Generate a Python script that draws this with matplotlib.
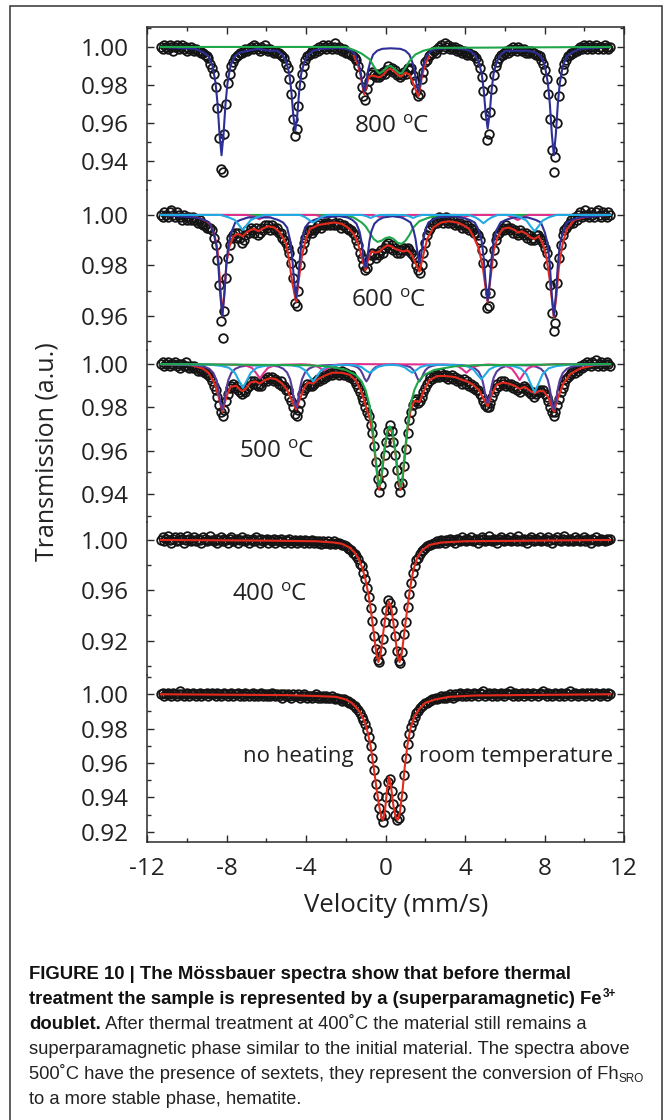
import matplotlib
matplotlib.use("Agg")
import matplotlib.pyplot as plt
import numpy as np
from matplotlib.patches import Rectangle
from matplotlib.ticker import MultipleLocator, FormatStrFormatter

plt.rcParams['font.family'] = ['Open Sans', 'DejaVu Sans']
plt.rcParams['axes.unicode_minus'] = False
plt.rcParams['mathtext.default'] = 'regular'

# velocity range of the channels (mm/s)
V_START, V_STOP = -11.3, 11.3

# measured transmission, one value per channel
t800 = [1.000, 0.999, 1.001, 1.000, 0.999, 1.001, 1.000, 0.998, 1.000, 1.001,
        0.999, 1.000, 1.001, 0.999, 1.000, 0.998, 0.999, 1.000, 0.999, 0.998,
        0.999, 0.998, 0.998, 0.997, 0.997, 0.996, 0.995, 0.994, 0.991, 0.989,
        0.986, 0.979, 0.968, 0.952, 0.936, 0.934, 0.954, 0.970, 0.981, 0.986,
        0.990, 0.992, 0.994, 0.995, 0.996, 0.997, 0.997, 0.998, 0.999, 0.998,
        0.999, 1.000, 0.999, 1.001, 1.000, 0.999, 0.998, 1.000, 0.999, 1.001,
        0.999, 0.998, 0.999, 0.998, 0.997, 0.998, 0.997, 0.997, 0.996, 0.995,
        0.994, 0.991, 0.989, 0.983, 0.975, 0.962, 0.953, 0.957, 0.969, 0.980,
        0.986, 0.990, 0.993, 0.995, 0.996, 0.997, 0.998, 0.997, 0.999, 0.998,
        1.000, 0.999, 1.001, 1.000, 0.999, 1.001, 1.000, 0.999, 1.000, 1.002,
        0.999, 1.000, 0.999, 0.998, 0.999, 0.997, 0.997, 0.997, 0.996, 0.995,
        0.994, 0.993, 0.990, 0.986, 0.979, 0.974, 0.972, 0.978, 0.982, 0.986,
        0.987, 0.985, 0.984, 0.986, 0.984, 0.985, 0.987, 0.986, 0.988, 0.990,
        0.988, 0.989, 0.987, 0.988, 0.985, 0.986, 0.984, 0.985, 0.987, 0.986,
        0.989, 0.988, 0.989, 0.985, 0.982, 0.977, 0.974, 0.975, 0.983, 0.987,
        0.992, 0.993, 0.995, 0.996, 0.997, 0.998, 0.997, 0.999, 1.000, 1.001,
        0.999, 1.002, 1.000, 1.001, 0.999, 1.000, 0.999, 1.000, 0.998, 0.999,
        0.998, 0.997, 0.998, 0.997, 0.996, 0.997, 0.996, 0.996, 0.995, 0.994,
        0.992, 0.989, 0.984, 0.977, 0.964, 0.951, 0.954, 0.966, 0.978, 0.985,
        0.990, 0.992, 0.994, 0.996, 0.996, 0.997, 0.998, 0.997, 0.999, 0.998,
        1.000, 0.999, 0.998, 1.000, 0.999, 0.998, 0.999, 0.997, 0.998, 0.997,
        0.998, 0.997, 0.997, 0.996, 0.996, 0.995, 0.993, 0.991, 0.988, 0.983,
        0.975, 0.962, 0.946, 0.934, 0.942, 0.960, 0.974, 0.982, 0.988, 0.991,
        0.993, 0.995, 0.996, 0.997, 0.997, 0.998, 0.998, 0.999, 1.000, 0.999,
        1.001, 1.000, 0.999, 1.001, 1.000, 0.999, 1.000, 1.001, 0.999, 1.000,
        1.000, 0.999, 1.001, 1.000, 0.999, 1.000]

t600 = [1.000, 0.999, 1.001, 1.000, 0.999, 1.001, 1.002, 1.000, 0.999, 1.001,
        1.000, 0.999, 0.998, 1.000, 0.999, 0.998, 0.999, 0.998, 0.999, 0.998,
        0.998, 0.997, 0.998, 0.997, 0.996, 0.996, 0.995, 0.995, 0.995, 0.994,
        0.991, 0.988, 0.982, 0.972, 0.958, 0.951, 0.962, 0.975, 0.983, 0.988,
        0.991, 0.992, 0.993, 0.991, 0.993, 0.991, 0.989, 0.990, 0.992, 0.994,
        0.993, 0.995, 0.994, 0.993, 0.995, 0.992, 0.993, 0.995, 0.994, 0.996,
        0.995, 0.996, 0.994, 0.996, 0.995, 0.994, 0.995, 0.993, 0.993, 0.991,
        0.990, 0.989, 0.987, 0.985, 0.981, 0.975, 0.965, 0.964, 0.970, 0.980,
        0.986, 0.989, 0.991, 0.993, 0.994, 0.994, 0.993, 0.994, 0.995, 0.996,
        0.997, 0.995, 0.996, 0.997, 0.996, 0.997, 0.996, 0.998, 0.996, 0.997,
        0.996, 0.997, 0.995, 0.996, 0.996, 0.995, 0.995, 0.994, 0.994, 0.993,
        0.992, 0.990, 0.988, 0.985, 0.983, 0.980, 0.978, 0.979, 0.982, 0.984,
        0.985, 0.984, 0.983, 0.985, 0.984, 0.986, 0.985, 0.987, 0.988, 0.989,
        0.987, 0.988, 0.986, 0.987, 0.985, 0.986, 0.985, 0.986, 0.987, 0.986,
        0.987, 0.986, 0.985, 0.984, 0.983, 0.980, 0.978, 0.977, 0.980, 0.985,
        0.989, 0.992, 0.994, 0.995, 0.996, 0.997, 0.998, 0.997, 0.999, 0.998,
        0.997, 0.998, 0.999, 0.997, 0.998, 0.997, 0.998, 0.996, 0.997, 0.996,
        0.997, 0.995, 0.996, 0.995, 0.996, 0.994, 0.995, 0.994, 0.993, 0.993,
        0.992, 0.990, 0.986, 0.981, 0.969, 0.963, 0.964, 0.969, 0.981, 0.986,
        0.990, 0.992, 0.993, 0.994, 0.995, 0.994, 0.996, 0.995, 0.994, 0.995,
        0.993, 0.994, 0.993, 0.992, 0.994, 0.993, 0.992, 0.993, 0.991, 0.992,
        0.990, 0.991, 0.990, 0.992, 0.992, 0.991, 0.990, 0.989, 0.987, 0.985,
        0.980, 0.972, 0.961, 0.954, 0.957, 0.973, 0.983, 0.988, 0.992, 0.994,
        0.995, 0.996, 0.997, 0.998, 0.997, 0.999, 0.998, 1.000, 1.001, 0.999,
        1.000, 1.002, 1.000, 0.999, 1.001, 1.000, 0.999, 1.001, 1.002, 1.000,
        0.999, 1.001, 1.000, 0.999, 1.001, 1.000]

t500 = [1.000, 1.001, 0.999, 1.000, 1.001, 0.999, 1.000, 1.000, 1.001, 0.999,
        1.000, 0.998, 1.000, 0.999, 1.001, 0.999, 0.998, 0.999, 0.998, 0.999,
        0.998, 0.997, 0.998, 0.997, 0.997, 0.996, 0.996, 0.995, 0.994, 0.992,
        0.990, 0.988, 0.985, 0.981, 0.978, 0.976, 0.979, 0.983, 0.986, 0.989,
        0.990, 0.991, 0.989, 0.990, 0.988, 0.987, 0.986, 0.988, 0.987, 0.989,
        0.990, 0.992, 0.991, 0.992, 0.991, 0.990, 0.991, 0.990, 0.992, 0.993,
        0.992, 0.994, 0.993, 0.994, 0.992, 0.993, 0.992, 0.991, 0.992, 0.990,
        0.990, 0.988, 0.988, 0.985, 0.983, 0.980, 0.977, 0.976, 0.979, 0.982,
        0.986, 0.988, 0.989, 0.991, 0.990, 0.991, 0.990, 0.991, 0.992, 0.993,
        0.992, 0.994, 0.993, 0.995, 0.994, 0.995, 0.996, 0.995, 0.996, 0.997,
        0.996, 0.995, 0.996, 0.997, 0.995, 0.996, 0.995, 0.994, 0.995, 0.993,
        0.992, 0.991, 0.989, 0.987, 0.985, 0.983, 0.980, 0.978, 0.976, 0.972,
        0.968, 0.962, 0.955, 0.947, 0.941, 0.944, 0.950, 0.958, 0.964, 0.969,
        0.972, 0.969, 0.964, 0.958, 0.951, 0.944, 0.941, 0.945, 0.953, 0.961,
        0.968, 0.974, 0.978, 0.981, 0.983, 0.984, 0.982, 0.983, 0.985, 0.987,
        0.989, 0.991, 0.992, 0.994, 0.993, 0.995, 0.994, 0.995, 0.994, 0.996,
        0.995, 0.994, 0.995, 0.993, 0.994, 0.995, 0.993, 0.994, 0.992, 0.993,
        0.992, 0.991, 0.993, 0.991, 0.992, 0.990, 0.991, 0.989, 0.990, 0.988,
        0.988, 0.986, 0.985, 0.983, 0.981, 0.980, 0.980, 0.982, 0.985, 0.987,
        0.989, 0.991, 0.990, 0.992, 0.991, 0.992, 0.990, 0.991, 0.990, 0.991,
        0.989, 0.990, 0.988, 0.989, 0.987, 0.989, 0.990, 0.989, 0.988, 0.987,
        0.986, 0.987, 0.985, 0.986, 0.987, 0.988, 0.987, 0.988, 0.986, 0.985,
        0.983, 0.980, 0.978, 0.976, 0.978, 0.981, 0.984, 0.987, 0.989, 0.991,
        0.993, 0.994, 0.995, 0.996, 0.997, 0.996, 0.998, 0.997, 0.999, 0.998,
        1.000, 0.999, 1.001, 1.000, 0.999, 1.001, 1.000, 1.002, 0.999, 1.000,
        1.001, 0.999, 1.000, 1.001, 1.000, 0.999]

t400 = [1.000, 1.002, 0.999, 1.001, 1.003, 1.000, 0.998, 1.001, 1.002, 0.999,
        1.000, 1.002, 1.001, 0.998, 1.000, 1.003, 1.001, 0.999, 1.000, 1.002,
        0.999, 1.001, 1.000, 0.998, 1.002, 1.001, 0.999, 1.000, 1.003, 1.000,
        0.999, 1.001, 0.998, 1.000, 1.002, 0.999, 1.001, 1.000, 0.998, 1.001,
        1.002, 0.999, 1.000, 1.001, 0.998, 1.000, 1.002, 1.000, 0.999, 1.001,
        0.998, 1.000, 1.001, 0.999, 1.002, 1.000, 0.998, 1.001, 0.999, 1.000,
        1.001, 0.998, 1.000, 0.999, 1.001, 0.998, 1.000, 0.999, 1.001, 0.999,
        0.998, 1.000, 0.999, 1.001, 0.998, 0.999, 1.000, 0.998, 0.999, 1.000,
        0.999, 0.998, 1.000, 0.999, 0.998, 0.999, 1.000, 0.998, 0.999, 0.998,
        0.999, 0.997, 0.999, 0.998, 0.998, 0.999, 0.997, 0.998, 0.999, 0.997,
        0.998, 0.998, 0.997, 0.996, 0.996, 0.995, 0.994, 0.993, 0.992, 0.990,
        0.989, 0.987, 0.985, 0.981, 0.979, 0.974, 0.969, 0.962, 0.955, 0.946,
        0.936, 0.924, 0.913, 0.905, 0.903, 0.912, 0.921, 0.935, 0.944, 0.952,
        0.950, 0.944, 0.934, 0.924, 0.912, 0.904, 0.902, 0.911, 0.925, 0.935,
        0.947, 0.957, 0.966, 0.974, 0.979, 0.984, 0.986, 0.989, 0.991, 0.992,
        0.994, 0.995, 0.996, 0.996, 0.997, 0.998,
        0.998, 0.999, 0.998, 1.000, 0.999, 0.998, 1.000, 0.999, 1.001, 0.999,
        1.000, 0.998, 1.001, 1.000, 0.999, 1.002, 1.000, 0.999, 1.001, 1.000,
        1.002, 0.999, 1.000, 1.001, 0.998, 1.000, 1.002, 1.001, 0.999, 1.000,
        1.003, 1.000, 0.999, 1.001, 1.000, 0.998, 1.001, 1.002, 1.000, 0.999,
        1.001, 1.000, 1.002, 0.999, 1.000, 1.001, 0.999, 1.003, 1.000, 0.999,
        1.001, 1.000, 0.998, 1.001, 1.002, 1.000, 0.999, 1.001, 1.000, 1.002,
        0.999, 1.000, 1.001, 0.999, 1.002, 1.000, 0.998, 1.001, 1.000, 1.002,
        1.000, 0.999, 1.001, 1.003, 1.000, 0.999, 1.001, 1.000, 0.999, 1.002,
        1.000, 1.001, 0.999, 1.000, 1.002, 0.999, 1.001, 1.000, 0.998, 1.001,
        1.000, 1.002, 0.999, 1.000, 1.001, 1.000, 0.999, 1.001, 1.000, 1.001]

t_rt = [1.000, 1.001, 0.999, 1.000, 1.001, 1.000, 0.999, 1.001, 1.000, 0.999,
        1.000, 1.002, 1.000, 0.999, 1.000, 1.001, 0.999, 1.000, 1.001, 1.000,
        0.999, 1.000, 1.001, 0.999, 1.000, 1.000, 1.001, 0.999, 1.000, 1.001,
        1.000, 0.999, 1.001, 1.000, 0.999, 1.000, 1.001, 1.000, 0.999, 1.000,
        1.001, 0.999, 1.000, 1.000, 1.001, 0.999, 1.000, 0.999, 1.001, 1.000,
        0.999, 1.000, 1.001, 0.999, 1.000, 0.999, 1.000, 1.001, 0.999, 1.000,
        0.999, 1.000, 0.999, 1.001, 1.000, 0.999, 1.000, 0.999, 1.000, 0.998,
        1.000, 0.999, 1.000, 0.999, 0.998, 1.000, 0.999, 0.999, 1.000, 0.998,
        0.999, 1.000, 0.999, 0.998, 0.999, 0.999, 0.998, 0.999, 1.000, 0.998,
        0.999, 0.998, 0.999, 0.998, 0.999, 0.998,
        0.998, 0.999, 0.998, 0.997, 0.998, 0.997, 0.997, 0.996, 0.997, 0.996,
        0.996, 0.995, 0.995, 0.994, 0.993, 0.992, 0.991, 0.989, 0.987, 0.985,
        0.983, 0.979, 0.975, 0.970, 0.963, 0.956, 0.948, 0.941, 0.934, 0.929,
        0.926, 0.930, 0.940, 0.949, 0.951, 0.944, 0.936, 0.930, 0.927, 0.928,
        0.933, 0.941, 0.953, 0.963, 0.971, 0.977, 0.981, 0.984, 0.987, 0.989,
        0.990, 0.992, 0.993, 0.994, 0.995, 0.995, 0.996, 0.996, 0.997, 0.997,
        0.998, 0.997, 0.998, 0.999, 0.998,
        0.999, 0.998, 0.999, 1.000, 0.999, 0.998, 1.000, 0.999, 1.000, 1.001,
        0.999, 1.000, 0.999, 1.001, 1.000, 0.999, 1.000, 1.001, 1.000, 0.999,
        1.001, 1.000, 1.002, 0.999, 1.000, 1.001, 1.000, 0.999, 1.001, 1.000,
        0.999, 1.000, 1.001, 1.000, 0.999, 1.001, 1.000, 1.002, 1.000, 0.999,
        1.001, 1.000, 0.999, 1.000, 1.001, 0.999, 1.000, 1.001, 1.000, 0.999,
        1.001, 1.000, 1.000, 0.999, 1.001, 1.000, 1.002, 1.000, 0.999, 1.001,
        1.000, 0.999, 1.000, 1.001, 1.000, 0.999, 1.001, 1.000, 0.999, 1.001,
        1.000, 1.002, 0.999, 1.000, 1.001, 1.000, 0.999, 1.000, 1.001, 1.000,
        0.999, 1.001, 1.000, 1.001, 0.999, 1.000, 1.001, 1.000, 0.999, 1.000,
        1.001, 1.000, 0.999, 1.001, 1.000]

# fitted components, (velocity, transmission) vertices
blue800 = [(-11.3, 1.0), (-9.55, 0.999), (-9.15, 0.997), (-8.9, 0.995), (-8.7, 0.990), (-8.55, 0.981),
           (-8.45, 0.970), (-8.35, 0.954), (-8.25, 0.943), (-8.15, 0.954), (-8.05, 0.970), (-7.95, 0.981),
           (-7.8, 0.990), (-7.6, 0.995), (-7.35, 0.997), (-6.95, 0.998), (-6.4, 0.999), (-5.84, 0.998),
           (-5.44, 0.998), (-5.19, 0.996), (-4.99, 0.992), (-4.84, 0.986), (-4.74, 0.977), (-4.64, 0.964),
           (-4.54, 0.956), (-4.44, 0.964), (-4.34, 0.977), (-4.24, 0.986), (-4.09, 0.992), (-3.89, 0.996),
           (-3.64, 0.998), (-3.24, 0.999), (-2.4, 0.9995), (-1.97, 0.999), (-1.72, 0.998), (-1.52, 0.996),
           (-1.37, 0.992), (-1.27, 0.988), (-1.17, 0.981), (-1.07, 0.9765), (-0.97, 0.981), (-0.87, 0.988),
           (-0.77, 0.992), (-0.62, 0.996), (-0.42, 0.998), (-0.17, 0.999), (0.25, 0.9993), (0.75, 0.999),
           (1.0, 0.998), (1.2, 0.996), (1.35, 0.992), (1.45, 0.988), (1.55, 0.981), (1.65, 0.9765),
           (1.75, 0.981), (1.85, 0.988), (1.95, 0.992), (2.1, 0.996), (2.3, 0.998), (2.55, 0.999),
           (3.3, 0.9995), (3.84, 0.999), (4.24, 0.998), (4.49, 0.996), (4.69, 0.992), (4.84, 0.986),
           (4.94, 0.9775), (5.04, 0.965), (5.14, 0.957), (5.24, 0.965), (5.34, 0.9775), (5.44, 0.986),
           (5.59, 0.992), (5.79, 0.996), (6.04, 0.998), (6.9, 0.998), (7.17, 0.998), (7.57, 0.997),
           (7.82, 0.995), (8.02, 0.990), (8.17, 0.981), (8.27, 0.970), (8.37, 0.954), (8.47, 0.943),
           (8.57, 0.954), (8.67, 0.970), (8.77, 0.981), (8.92, 0.990), (9.12, 0.995), (9.37, 0.997),
           (9.77, 0.999), (11.3, 1.0)]
green800 = [(-11.3, 1.0), (-2.0, 1.0), (-1.5, 0.998), (-1.2, 0.9965), (-1.0, 0.995), (-0.8, 0.9935),
            (-0.6, 0.990), (-0.45, 0.9875), (-0.3, 0.986), (-0.1, 0.9875), (0.1, 0.9895), (0.25, 0.990),
            (0.45, 0.9885), (0.65, 0.9865), (0.8, 0.986), (1.0, 0.989), (1.2, 0.9925), (1.5, 0.996),
            (1.9, 0.998), (2.5, 0.9995), (11.3, 1.0)]
red800 = [(-1.6, 0.9955), (-1.4, 0.991), (-1.25, 0.985), (-1.15, 0.979), (-1.07, 0.975), (-0.97, 0.979),
          (-0.85, 0.984), (-0.7, 0.985), (-0.5, 0.9845), (-0.3, 0.984), (-0.1, 0.9855), (0.1, 0.988),
          (0.25, 0.9885), (0.45, 0.987), (0.65, 0.985), (0.8, 0.9845), (1.0, 0.9865), (1.2, 0.9855),
          (1.35, 0.982), (1.5, 0.978), (1.65, 0.974), (1.75, 0.979), (1.85, 0.9855), (2.0, 0.991),
          (2.2, 0.995)]

blue600 = [(-11.3, 1.0), (-9.51, 0.999), (-9.11, 0.998), (-8.86, 0.997), (-8.66, 0.993), (-8.51, 0.988),
           (-8.41, 0.980), (-8.31, 0.968), (-8.21, 0.960), (-8.11, 0.968), (-8.01, 0.980), (-7.91, 0.988),
           (-7.76, 0.993), (-7.56, 0.997), (-7.31, 0.998), (-6.91, 0.999), (-5.8, 0.999), (-5.4, 0.998),
           (-5.15, 0.997), (-4.95, 0.995), (-4.8, 0.990), (-4.7, 0.9835), (-4.6, 0.974), (-4.5, 0.967),
           (-4.4, 0.974), (-4.3, 0.9835), (-4.2, 0.990), (-4.05, 0.995), (-3.85, 0.997), (-3.6, 0.998),
           (-3.2, 0.999), (-2.31, 0.9995), (-1.91, 0.999), (-1.66, 0.998), (-1.46, 0.9965), (-1.31, 0.9935),
           (-1.21, 0.9895), (-1.11, 0.983), (-1.01, 0.979), (-0.91, 0.983), (-0.81, 0.9895), (-0.71, 0.9935),
           (-0.56, 0.9965), (-0.36, 0.998), (-0.11, 0.999), (0.35, 0.9995), (0.81, 0.999), (1.06, 0.998),
           (1.26, 0.997), (1.41, 0.994), (1.51, 0.9905), (1.61, 0.985), (1.71, 0.981), (1.81, 0.985),
           (1.91, 0.9905), (2.01, 0.994), (2.16, 0.997), (2.36, 0.998), (2.61, 0.999), (3.4, 0.9995),
           (3.84, 0.999), (4.24, 0.998), (4.49, 0.997), (4.69, 0.994), (4.84, 0.9895), (4.94, 0.983),
           (5.04, 0.973), (5.14, 0.966), (5.24, 0.973), (5.34, 0.983), (5.44, 0.9895), (5.59, 0.994),
           (5.79, 0.997), (6.04, 0.998), (6.44, 0.999), (7.17, 0.999), (7.57, 0.998), (7.82, 0.997),
           (8.02, 0.993), (8.17, 0.988), (8.27, 0.980), (8.37, 0.968), (8.47, 0.960), (8.57, 0.968),
           (8.67, 0.980), (8.77, 0.988), (8.92, 0.993), (9.12, 0.997), (9.37, 0.998), (9.77, 0.999),
           (11.3, 1.0)]
cyan600 = [(-11.3, 1.0), (-8.3, 1.0), (-7.88, 0.999), (-7.58, 0.998), (-7.38, 0.996), (-7.18, 0.994),
           (-6.98, 0.996), (-6.78, 0.998), (-6.48, 0.999), (-6.08, 1.0), (-4.3, 1.0), (-4.04, 0.9991),
           (-3.84, 0.998), (-3.64, 0.997), (-3.44, 0.998), (-3.24, 0.9991), (-2.94, 1.0), (-1.2, 1.0),
           (-0.95, 0.9995), (-0.75, 0.9988), (-0.55, 0.9995), (-0.3, 1.0), (0.95, 1.0), (1.19, 0.9995),
           (1.39, 0.9988), (1.59, 0.9995), (1.85, 1.0), (4.2, 1.0), (4.53, 0.999), (4.73, 0.998),
           (4.93, 0.9967), (5.13, 0.998), (5.33, 0.999), (5.65, 1.0), (6.4, 1.0), (6.8, 0.999),
           (7.1, 0.9977), (7.3, 0.9955), (7.5, 0.9935), (7.7, 0.9955), (7.9, 0.9977), (8.2, 0.999),
           (8.6, 1.0), (11.3, 1.0)]
magenta600 = [(-11.3, 1.0), (-7.0, 1.0), (-6.6, 0.9993), (-6.35, 0.9983), (-6.1, 0.9993), (-5.7, 1.0),
              (-3.5, 1.0), (-3.1, 0.999), (-2.7, 1.0), (-0.6, 1.0), (-0.3, 0.9992), (0.0, 1.0), (0.5, 1.0),
              (0.8, 0.9992), (1.1, 1.0), (3.5, 1.0), (3.9, 0.999), (4.3, 1.0), (6.1, 1.0), (6.4, 0.999),
              (6.65, 0.998), (6.9, 0.999), (7.2, 1.0), (11.3, 1.0)]
green600 = [(-11.3, 1.0), (-2.2, 1.0), (-1.6, 0.999), (-1.2, 0.997), (-1.0, 0.9955), (-0.8, 0.993),
            (-0.6, 0.9905), (-0.4, 0.9893), (-0.2, 0.9898), (0.0, 0.9908), (0.2, 0.9912), (0.4, 0.9905),
            (0.6, 0.989), (0.8, 0.9885), (1.0, 0.9897), (1.2, 0.992), (1.4, 0.995), (1.7, 0.9975),
            (2.2, 0.999), (3.0, 1.0), (11.3, 1.0)]
red600 = [(-11.3, 1.0), (-9.6, 0.9995), (-9.0, 0.9975), (-8.8, 0.996), (-8.6, 0.992), (-8.45, 0.986),
          (-8.35, 0.976), (-8.21, 0.960), (-8.1, 0.970), (-8.0, 0.981), (-7.85, 0.9875), (-7.65, 0.9915),
          (-7.45, 0.9925), (-7.3, 0.992), (-7.18, 0.9915), (-7.0, 0.993), (-6.8, 0.994), (-6.6, 0.9945),
          (-6.4, 0.9935), (-6.2, 0.9945), (-5.9, 0.9955), (-5.6, 0.995), (-5.3, 0.993), (-5.0, 0.9885),
          (-4.85, 0.982), (-4.7, 0.9735), (-4.5, 0.9655), (-4.35, 0.975), (-4.2, 0.984), (-4.0, 0.9905),
          (-3.8, 0.9945), (-3.64, 0.995), (-3.4, 0.996), (-3.0, 0.9965), (-2.6, 0.997), (-2.2, 0.9965),
          (-1.9, 0.995), (-1.6, 0.9925), (-1.4, 0.989), (-1.2, 0.9835), (-1.01, 0.978), (-0.85, 0.983),
          (-0.7, 0.9855), (-0.5, 0.985), (-0.3, 0.9855), (-0.1, 0.987), (0.1, 0.988), (0.3, 0.9875),
          (0.5, 0.9865), (0.7, 0.986), (0.9, 0.9855), (1.1, 0.986), (1.3, 0.9845), (1.5, 0.981),
          (1.71, 0.9775), (1.9, 0.984), (2.1, 0.9905), (2.4, 0.995), (2.8, 0.997), (3.2, 0.9975),
          (3.6, 0.997), (3.9, 0.996), (4.2, 0.9945), (4.45, 0.991), (4.7, 0.9865), (4.9, 0.979),
          (5.02, 0.972), (5.14, 0.9655), (5.3, 0.976), (5.45, 0.986), (5.65, 0.9915), (5.9, 0.9945),
          (6.2, 0.995), (6.5, 0.994), (6.65, 0.993), (6.85, 0.9935), (7.1, 0.9925), (7.3, 0.991),
          (7.5, 0.9905), (7.7, 0.9915), (7.9, 0.989), (8.1, 0.983), (8.25, 0.975), (8.47, 0.9595),
          (8.6, 0.968), (8.72, 0.979), (8.9, 0.988), (9.1, 0.994), (9.5, 0.998), (10.2, 0.9995),
          (11.3, 1.0)]

purple500 = [(-11.3, 1.0), (-9.51, 0.9994), (-9.11, 0.9988), (-8.86, 0.9978), (-8.66, 0.9959),
             (-8.51, 0.9926), (-8.41, 0.9885), (-8.31, 0.9826), (-8.21, 0.979), (-8.11, 0.9826),
             (-8.01, 0.9885), (-7.91, 0.9926), (-7.76, 0.9959), (-7.56, 0.9978), (-7.31, 0.9988),
             (-6.91, 0.9994), (-5.8, 0.9994), (-5.4, 0.9989), (-5.15, 0.9979), (-4.95, 0.9961),
             (-4.8, 0.993), (-4.7, 0.989), (-4.6, 0.9834), (-4.5, 0.980), (-4.4, 0.9834), (-4.3, 0.989),
             (-4.2, 0.993), (-4.05, 0.9961), (-3.85, 0.9979), (-3.6, 0.9989), (-3.2, 0.9994),
             (-2.3, 0.9997), (-1.86, 0.9996), (-1.61, 0.9992), (-1.41, 0.9985), (-1.26, 0.9972),
             (-1.16, 0.9956), (-1.06, 0.9934), (-0.96, 0.992), (-0.86, 0.9934), (-0.76, 0.9956),
             (-0.66, 0.9972), (-0.51, 0.9985), (-0.31, 0.9992), (-0.06, 0.9996), (0.4, 0.9998),
             (0.81, 0.9996), (1.06, 0.9992), (1.26, 0.9985), (1.41, 0.9972), (1.51, 0.9956),
             (1.61, 0.9934), (1.71, 0.992), (1.81, 0.9934), (1.91, 0.9956), (2.01, 0.9972),
             (2.16, 0.9985), (2.36, 0.9992), (2.61, 0.9996), (3.4, 0.9997), (3.84, 0.9995),
             (4.24, 0.999), (4.49, 0.9981), (4.69, 0.9965), (4.84, 0.9937), (4.94, 0.990), (5.04, 0.985),
             (5.14, 0.982), (5.24, 0.985), (5.34, 0.990), (5.44, 0.9937), (5.59, 0.9965), (5.79, 0.9981),
             (6.04, 0.999), (6.44, 0.9995), (7.17, 0.9994), (7.57, 0.9988), (7.82, 0.9978),
             (8.02, 0.9959), (8.17, 0.9926), (8.27, 0.9885), (8.37, 0.9826), (8.47, 0.979),
             (8.57, 0.9826), (8.67, 0.9885), (8.77, 0.9926), (8.92, 0.9959), (9.12, 0.9978),
             (9.37, 0.9988), (9.77, 0.9994), (11.3, 1.0)]
cyan500 = [(-11.3, 1.0), (-8.9, 0.9998), (-8.28, 0.9992), (-7.88, 0.9983), (-7.58, 0.996), (-7.38, 0.9924),
           (-7.18, 0.989), (-6.98, 0.9924), (-6.78, 0.996), (-6.48, 0.9983), (-6.08, 0.9992), (-5.4, 0.9996),
           (-4.74, 0.9994), (-4.34, 0.9988), (-4.04, 0.9971), (-3.84, 0.9945), (-3.64, 0.992),
           (-3.44, 0.9945), (-3.24, 0.9971), (-2.94, 0.9988), (-2.54, 0.9994), (-1.9, 0.9997),
           (-1.5, 0.9994), (-1.2, 0.9986), (-1.0, 0.9972), (-0.8, 0.996), (-0.6, 0.9972), (-0.4, 0.9986),
           (-0.1, 0.9994), (0.25, 0.9997), (0.65, 0.9994), (0.95, 0.9986), (1.15, 0.9972), (1.35, 0.996),
           (1.55, 0.9972), (1.75, 0.9986), (2.05, 0.9994), (2.45, 0.9997), (3.72, 0.9995), (4.12, 0.9989),
           (4.42, 0.9975), (4.62, 0.9952), (4.82, 0.993), (5.02, 0.9952), (5.22, 0.9975), (5.52, 0.9989),
           (5.92, 0.9995), (6.4, 0.9991), (6.8, 0.998), (7.1, 0.9953), (7.3, 0.991), (7.5, 0.987),
           (7.7, 0.991), (7.9, 0.9953), (8.2, 0.998), (8.6, 0.9991), (9.3, 0.9998), (11.3, 1.0)]
magenta500 = [(-11.3, 1.0), (-7.42, 0.9997), (-7.02, 0.9993), (-6.72, 0.9982), (-6.52, 0.996),
              (-6.32, 0.9934), (-6.12, 0.996), (-5.92, 0.9982), (-5.62, 0.9993), (-5.22, 0.9997),
              (-4.2, 0.9999), (-3.8, 0.9997), (-3.5, 0.9992), (-3.3, 0.9982), (-3.1, 0.997), (-2.9, 0.9982),
              (-2.7, 0.9992), (-2.4, 0.9997), (-2.0, 1.0), (2.97, 0.9998), (3.37, 0.9995), (3.67, 0.9989),
              (3.87, 0.9976), (4.07, 0.996), (4.27, 0.9976), (4.47, 0.9989), (4.77, 0.9995), (5.17, 0.9998),
              (5.65, 0.9996), (6.05, 0.9992), (6.35, 0.9979), (6.55, 0.9955), (6.75, 0.9926),
              (6.95, 0.9955), (7.15, 0.9979), (7.45, 0.9992), (7.85, 0.9996), (8.5, 1.0), (11.3, 1.0)]
green500 = [(-11.3, 1.0), (-4.0, 0.9995), (-3.0, 0.999), (-2.45, 0.9982), (-2.0, 0.9973), (-1.5, 0.995),
            (-1.2, 0.992), (-1.0, 0.988), (-0.8, 0.981), (-0.65, 0.971), (-0.5, 0.957), (-0.4, 0.947),
            (-0.32, 0.9435), (-0.2, 0.9485), (-0.05, 0.961), (0.1, 0.9695), (0.21, 0.9713), (0.35, 0.9688),
            (0.5, 0.9598), (0.63, 0.9485), (0.75, 0.9435), (0.85, 0.9465), (0.95, 0.957), (1.1, 0.971),
            (1.25, 0.981), (1.45, 0.988), (1.65, 0.992), (1.95, 0.995), (2.45, 0.9973), (3.0, 0.9982),
            (3.5, 0.999), (4.5, 0.9995), (11.3, 1.0)]
red500 = [(-11.3, 1.0), (-9.8, 0.9995), (-9.2, 0.998), (-8.9, 0.996), (-8.6, 0.991), (-8.4, 0.985),
          (-8.21, 0.978), (-8.0, 0.985), (-7.8, 0.9895), (-7.5, 0.990), (-7.3, 0.988), (-7.18, 0.9875),
          (-7.0, 0.989), (-6.8, 0.9915), (-6.55, 0.992), (-6.32, 0.991), (-6.1, 0.9925), (-5.8, 0.9935),
          (-5.5, 0.993), (-5.2, 0.991), (-4.95, 0.988), (-4.75, 0.984), (-4.5, 0.979), (-4.3, 0.984),
          (-4.1, 0.989), (-3.9, 0.9915), (-3.64, 0.991), (-3.4, 0.993), (-3.1, 0.9945), (-2.7, 0.996),
          (-2.2, 0.996), (-1.8, 0.995), (-1.5, 0.9925), (-1.25, 0.988), (-1.1, 0.984), (-0.96, 0.9795),
          (-0.8, 0.975), (-0.65, 0.968), (-0.5, 0.9555), (-0.32, 0.942), (-0.2, 0.9475), (-0.05, 0.960),
          (0.1, 0.969), (0.21, 0.9705), (0.35, 0.968), (0.5, 0.959), (0.63, 0.948), (0.75, 0.942),
          (0.85, 0.9455), (0.95, 0.9555), (1.1, 0.969), (1.25, 0.978), (1.45, 0.983), (1.71, 0.9825),
          (1.95, 0.988), (2.2, 0.9925), (2.6, 0.9945), (3.0, 0.9945), (3.5, 0.994), (3.9, 0.9925),
          (4.1, 0.992), (4.4, 0.9905), (4.7, 0.988), (4.9, 0.9845), (5.14, 0.9805), (5.35, 0.986),
          (5.6, 0.9905), (5.9, 0.9915), (6.2, 0.991), (6.5, 0.990), (6.75, 0.9885), (7.0, 0.9895),
          (7.3, 0.9875), (7.5, 0.9865), (7.7, 0.9875), (7.95, 0.9875), (8.2, 0.9845), (8.47, 0.978),
          (8.7, 0.985), (8.95, 0.991), (9.3, 0.9955), (9.8, 0.998), (10.5, 0.9995), (11.3, 1.0)]

red400 = [(-11.3, 1.0), (-6.0, 0.9995), (-3.5, 0.999), (-2.6, 0.998), (-2.2, 0.997), (-1.8, 0.994),
          (-1.55, 0.990), (-1.35, 0.985), (-1.15, 0.977), (-1.0, 0.968), (-0.85, 0.956), (-0.7, 0.940),
          (-0.55, 0.921), (-0.45, 0.909), (-0.36, 0.903), (-0.25, 0.909), (-0.1, 0.928), (0.05, 0.945),
          (0.17, 0.951), (0.3, 0.945), (0.45, 0.928), (0.6, 0.909), (0.71, 0.903), (0.82, 0.910),
          (0.95, 0.927), (1.1, 0.946), (1.25, 0.963), (1.4, 0.976), (1.6, 0.986), (1.85, 0.992),
          (2.2, 0.996), (2.8, 0.998), (4.0, 0.999), (11.3, 1.0)]

red_rt = [(-11.3, 1.0), (-5.0, 0.9995), (-3.5, 0.999), (-2.5, 0.9985), (-2.0, 0.997), (-1.7, 0.995),
          (-1.45, 0.992), (-1.25, 0.989), (-1.05, 0.984), (-0.9, 0.978), (-0.75, 0.970), (-0.6, 0.958),
          (-0.45, 0.945), (-0.32, 0.935), (-0.2, 0.928), (-0.12, 0.927), (-0.02, 0.933), (0.08, 0.945),
          (0.17, 0.952), (0.27, 0.947), (0.4, 0.935), (0.52, 0.928), (0.62, 0.927), (0.72, 0.931),
          (0.85, 0.943), (0.97, 0.958), (1.1, 0.970), (1.25, 0.980), (1.45, 0.987), (1.7, 0.9915),
          (2.0, 0.995), (2.5, 0.997), (3.2, 0.9985), (4.5, 0.9993), (11.3, 1.0)]

y_ticks800 = [0.94, 0.96, 0.98, 1.00]
y_ticks600 = [0.96, 0.98, 1.00]
y_ticks500 = [0.94, 0.96, 0.98, 1.00]
y_ticks400 = [0.92, 0.96, 1.00]
y_ticks_rt = [0.92, 0.94, 0.96, 0.98, 1.00]
x_ticks = [-12, -8, -4, 0, 4, 8, 12]

labels = ['800 $^{o}$C', '600 $^{o}$C', '500 $^{o}$C', '400 $^{o}$C']

# colours
C_BLUE = '#2d2f96'
C_PURPLE = '#553c9c'
C_GREEN = '#1fa64a'
C_RED = '#e42a1d'
C_CYAN = '#22aae4'
C_MAGENTA = '#e0308e'
C_AX = '#2a2a2a'

W, H = 668, 1120
fig = plt.figure(figsize=(W / 100, H / 100), dpi=100)


def fx(px):
    return px / W


def fy(py):
    return 1 - py / H


fig.patches.append(Rectangle((fx(10), fy(1140)), fx(662) - fx(10), fy(6) - fy(1140),
                             transform=fig.transFigure, fill=False, lw=1.1, ec='#333333'))

# panel edges in pixels (top of frame -> bottom of frame)
edges = [27, 190, 350, 522, 675, 842]
ylims = [(0.9247, 1.0105), (0.9464, 1.0099), (0.9271, 1.0065), (0.8927, 1.0143), (0.9141, 1.0112)]
yticks = [y_ticks800, y_ticks600, y_ticks500, y_ticks400, y_ticks_rt]
minor_steps = [0.01, 0.01, 0.01, 0.02, 0.01]
spectra = [t800, t600, t500, t400, t_rt]
fits = [
    [(red800, C_RED), (blue800, C_BLUE), (green800, C_GREEN)],
    [(red600, C_RED), (green600, C_GREEN), (magenta600, C_MAGENTA), (blue600, C_BLUE), (cyan600, C_CYAN)],
    [(red500, C_RED), (purple500, C_PURPLE), (magenta500, C_MAGENTA), (cyan500, C_CYAN), (green500, C_GREEN)],
    [(red400, C_RED)],
    [(red_rt, C_RED)],
]

axes = []
for k in range(5):
    top, bot = edges[k], edges[k + 1]
    ax = fig.add_axes([fx(147), fy(bot), fx(624) - fx(147), (bot - top) / H])
    ax.set_facecolor('none')
    vel = np.linspace(V_START, V_STOP, len(spectra[k]))
    ax.plot(vel, spectra[k], 'o', mfc='none', mec='#141414', ms=6.2, mew=1.3, zorder=2)
    for pts, col in fits[k]:
        p = np.array(pts)
        ax.plot(p[:, 0], p[:, 1], color=col, lw=1.5, zorder=3)
    ax.set_xlim(-12, 12)
    ax.set_ylim(*ylims[k])
    ax.set_yticks(yticks[k])
    ax.yaxis.set_minor_locator(MultipleLocator(minor_steps[k]))
    ax.yaxis.set_major_formatter(FormatStrFormatter('%.2f'))
    ax.set_xticks(x_ticks)
    ax.xaxis.set_minor_locator(MultipleLocator(2))
    for s in ax.spines.values():
        s.set_color(C_AX)
        s.set_linewidth(1.1)
    if k > 0:
        ax.spines['top'].set_visible(False)
    if k < 4:
        ax.spines['bottom'].set_visible(False)
    ax.tick_params(axis='y', which='both', direction='in', left=True, right=True,
                   width=1.0, color=C_AX, labelsize=17.5, pad=13, labelcolor='#222222')
    ax.tick_params(axis='y', which='major', length=5)
    ax.tick_params(axis='y', which='minor', length=3)
    ax.tick_params(axis='x', which='both', direction='in', width=1.0, color=C_AX,
                   labelsize=17.5, pad=11, labelcolor='#222222',
                   top=(k == 0), bottom=(k == 4), labelbottom=(k == 4))
    ax.tick_params(axis='x', which='major', length=5)
    ax.tick_params(axis='x', which='minor', length=3)
    axes.append(ax)

txt = dict(fontsize=17.5, color='#222222', ha='center', va='center')
axes[0].text(0.32, 0.958, labels[0], **txt)
axes[1].text(0.17, 0.966, labels[1], **txt)
axes[2].text(-5.46, 0.9595, labels[2], **txt)
axes[3].text(-5.82, 0.956, labels[3], **txt)
small = dict(txt, fontsize=16)
axes[4].text(-4.41, 0.964, 'no heating', **small)
axes[4].text(6.56, 0.964, 'room temperature', **small)

fig.text(fx(47), fy(452), 'Transmission (a.u.)', rotation=90, ha='center', va='center',
         fontsize=18, color='#222222')
fig.text(fx(396), fy(905), 'Velocity (mm/s)', ha='center', va='center', fontsize=18.5, color='#222222')

# caption
rend = fig.canvas.get_renderer()
cap_font = ['Liberation Sans Narrow', 'Liberation Sans', 'DejaVu Sans']
bold = dict(family=cap_font, fontsize=13.3, weight='bold', color='#111111')
reg = dict(family=cap_font, fontsize=13.2, color='#222222')


def run(xp, yp, s, **kw):
    t = fig.text(fx(xp), fy(yp), s, ha='left', va='baseline', **kw)
    return t.get_window_extent(rend).x1


run(29, 979, 'FIGURE 10 | The Mössbauer spectra show that before thermal', **bold)
x = run(29, 1004, 'treatment the sample is represented by a (superparamagnetic) Fe', **bold)
run(x + 1, 997, '3+', **dict(bold, fontsize=8.5))
x = run(29, 1029, 'doublet.', **bold)
run(x, 1029, ' After thermal treatment at 400˚C the material still remains a', **reg)
run(29, 1054, 'superparamagnetic phase similar to the initial material. The spectra above', **reg)
x = run(29, 1079, '500˚C have the presence of sextets, they represent the conversion of Fh', **reg)
run(x, 1082, 'SRO', **dict(reg, fontsize=8.5))
run(29, 1104, 'to a more stable phase, hematite.', **reg)

fig.savefig('out.png', dpi=100)
